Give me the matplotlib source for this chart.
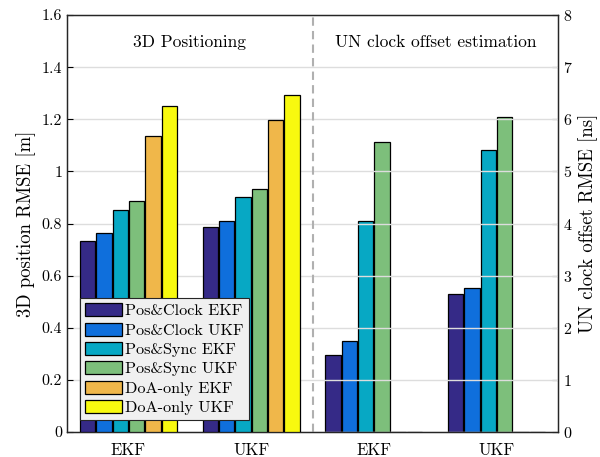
import matplotlib.pyplot as plt
import numpy as np

plt.rcParams['font.family'] = 'cmr10'
plt.rcParams['mathtext.fontset'] = 'cm'
plt.rcParams['axes.formatter.use_mathtext'] = True

# data
groups = ['EKF', 'UKF', 'EKF', 'UKF']
series = ['Pos&Clock EKF', 'Pos&Clock UKF', 'Pos&Sync EKF',
          'Pos&Sync UKF', 'DoA-only EKF', 'DoA-only UKF']
colors = ['#352a87', '#0f6fdc', '#07a8c4', '#7dbf7b', '#f0b74a', '#f8f90f']

# 3D position RMSE [m] (EKF, UKF)
pos_rmse = [[0.733, 0.787],
            [0.763, 0.810],
            [0.851, 0.902],
            [0.888, 0.932],
            [1.135, 1.198],
            [1.251, 1.292]]
# UN clock offset RMSE [ns] (EKF, UKF)
clk_rmse = [[1.47, 2.64],
            [1.74, 2.77],
            [4.04, 5.41],
            [5.57, 6.05],
            [0.0, 0.0],
            [0.0, 0.0]]

fig = plt.figure(figsize=(6, 4.57), dpi=100)
ax = fig.add_axes([0.1117, 0.0547, 0.8183, 0.9123])
ax2 = ax.twinx()

x_left = np.array([1, 2])
x_right = np.array([3, 4])
step = 0.133
w = 0.125

for i in range(len(series)):
    off = (i - 2.5) * step
    ax.bar(x_left + off, pos_rmse[i], w, color=colors[i], edgecolor='black',
           linewidth=0.9, label=series[i], zorder=3)
    ax2.bar(x_right + off, clk_rmse[i], w, color=colors[i], edgecolor='black',
            linewidth=0.9, zorder=3)

ax.set_xlim(0.5, 4.5)
ax.set_ylim(0, 1.6)
ax2.set_ylim(0, 8)
ax.set_yticks(np.arange(0, 1.61, 0.2))
ax.set_yticklabels(['0', '0.2', '0.4', '0.6', '0.8', '1', '1.2', '1.4', '1.6'])
ax2.set_yticks(np.arange(0, 9, 1))
ax.set_xticks([1, 2, 3, 4])
ax.set_xticklabels(groups)

ax.yaxis.grid(True, color='#dddddd', linewidth=1, zorder=0)
ax.set_axisbelow(True)
ax.axvline(2.5, color='#b0b0b0', linestyle=(0, (4, 2.5)), linewidth=1.5, zorder=1)

ax.tick_params(direction='in', labelsize=11.5, length=4, width=0.8)
ax2.tick_params(direction='in', labelsize=11.5, length=4, width=0.8)
ax.tick_params(axis='x', length=0, pad=8, labelsize=12)

ax.set_ylabel('3D position RMSE [m]', fontsize=13.5)
ax2.set_ylabel('UN clock offset RMSE [ns]', fontsize=13.5)

ax.text(1.5, 1.495, '3D Positioning', ha='center', va='center', fontsize=12.5)
ax.text(3.5, 1.495, 'UN clock offset estimation', ha='center', va='center', fontsize=12.5)

for a in (ax, ax2):
    for s in a.spines.values():
        s.set_color('#262626')
        s.set_linewidth(0.9)

ax2.set_zorder(ax.get_zorder() - 1)
ax.patch.set_visible(False)
ax2.patch.set_visible(True)

leg = ax.legend(loc='lower left', bbox_to_anchor=(0.026, 0.029), borderaxespad=0,
                fontsize=11.7, frameon=True, fancybox=False,
                handlelength=2.3, handleheight=0.85,
                borderpad=0.3, labelspacing=0.26, handletextpad=0.2)
leg.get_frame().set_facecolor('#f0f0f0')
leg.get_frame().set_edgecolor('#262626')
leg.get_frame().set_alpha(1)
leg.get_frame().set_linewidth(0.8)

fig.savefig('out.png', dpi=100)
